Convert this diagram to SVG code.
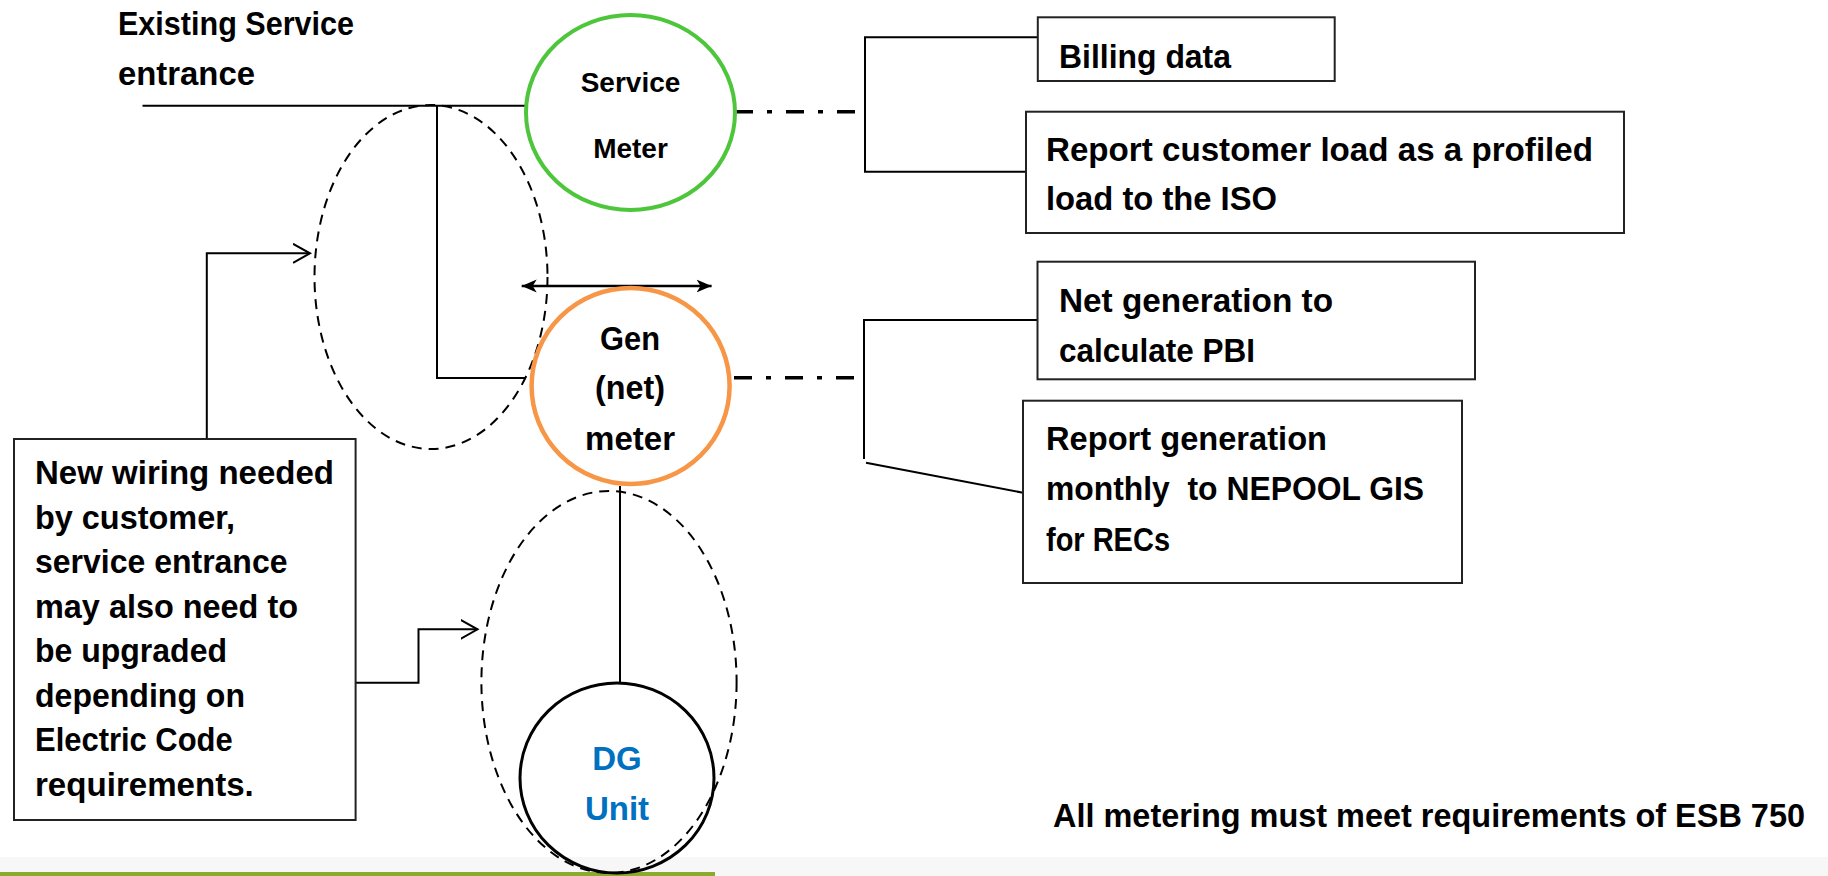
<svg xmlns="http://www.w3.org/2000/svg" width="1828" height="876" viewBox="0 0 1828 876">
<style>
.t{font-family:"Liberation Sans",Arial,sans-serif;font-weight:bold;font-size:33px;fill:#000}
.m{font-family:"Liberation Sans",Arial,sans-serif;font-weight:bold;font-size:28px;fill:#000}
.dg{fill:#0070C0}
.w{fill:none;stroke:#000;stroke-width:2}
.box{fill:#fff;stroke:#222;stroke-width:2}
.dash{fill:none;stroke:#000;stroke-width:2;stroke-dasharray:10 7}
.dd{fill:none;stroke:#000;stroke-width:3.5;stroke-dasharray:18 14 5 14}
</style>
<defs>
<marker id="open" markerWidth="20" markerHeight="24" refX="17" refY="10" orient="auto" markerUnits="userSpaceOnUse">
<path d="M0,0.5 L17,10 L0,19.5" fill="none" stroke="#000" stroke-width="2"/>
</marker>
<marker id="stealth" markerWidth="18" markerHeight="16" refX="15" refY="7" orient="auto-start-reverse" markerUnits="userSpaceOnUse">
<path d="M0,0.5 L15,7 L0,13.5 L4,7 Z" fill="#000"/>
</marker>
</defs>
<rect x="0" y="0" width="1828" height="876" fill="#fff"/>
<rect x="0" y="857" width="1828" height="19" fill="#f7f7f7"/>
<rect x="0" y="872" width="715" height="4" fill="#8CAB2C"/>

<g id="connectors">
<polyline class="w" points="142.5,105.7 526,105.7"/>
<polyline class="w" points="437,105.7 437,378 526,378"/>
<line x1="521.7" y1="286" x2="711.6" y2="286" stroke="#000" stroke-width="2.5" marker-start="url(#stealth)" marker-end="url(#stealth)"/>
<line class="dd" x1="735" y1="111.7" x2="855" y2="111.7"/>
<line class="dd" x1="734" y1="377.7" x2="855" y2="377.7"/>
<polyline class="w" points="1037.8,37.3 865,37.3 865,171.7 1026,171.7"/>
<polyline class="w" points="1037.5,320 864,320 864,459"/>
<line class="w" x1="866" y1="462.7" x2="1023" y2="492.7"/>
<polyline class="w" points="206.8,439 206.8,253.3 310,253.3" marker-end="url(#open)"/>
<polyline class="w" points="355.6,682.7 418.5,682.7 418.5,629.3 477.5,629.3" marker-end="url(#open)"/>
<line class="w" x1="620" y1="486" x2="620" y2="682.7"/>
</g>

<g id="existing-service">
<text class="t" x="118" y="35" textLength="236" lengthAdjust="spacingAndGlyphs">Existing Service</text>
<text class="t" x="118" y="85" textLength="137" lengthAdjust="spacingAndGlyphs">entrance</text>
</g>

<g id="group-dashed-1">
<ellipse class="dash" cx="431" cy="277" rx="116.5" ry="172"/>
</g>
<g id="group-dashed-2">
<ellipse class="dash" cx="609" cy="682" rx="127.6" ry="191"/>
</g>

<g id="service-meter">
<ellipse cx="630.5" cy="112.5" rx="104.5" ry="97.5" fill="none" stroke="#4DC63B" stroke-width="4"/>
<text class="m" x="630.5" y="91.7" text-anchor="middle">Service</text>
<text class="m" x="630.5" y="158" text-anchor="middle">Meter</text>
</g>

<g id="gen-meter">
<ellipse cx="630.6" cy="386" rx="99" ry="98" fill="none" stroke="#F79646" stroke-width="4.5"/>
<text class="t" x="630" y="350" text-anchor="middle" textLength="60" lengthAdjust="spacingAndGlyphs">Gen</text>
<text class="t" x="630" y="399" text-anchor="middle" textLength="70" lengthAdjust="spacingAndGlyphs">(net)</text>
<text class="t" x="630" y="450" text-anchor="middle" textLength="90" lengthAdjust="spacingAndGlyphs">meter</text>
</g>

<g id="dg-unit">
<ellipse cx="617" cy="778" rx="97" ry="95" fill="none" stroke="#000" stroke-width="3"/>
<text class="t dg" x="617" y="770" text-anchor="middle">DG</text>
<text class="t dg" x="617" y="820" text-anchor="middle">Unit</text>
</g>

<g id="billing-data">
<rect class="box" x="1037.8" y="17.3" width="296.9" height="63.7"/>
<text class="t" x="1059" y="68.3" textLength="172" lengthAdjust="spacingAndGlyphs">Billing data</text>
</g>

<g id="report-customer">
<rect class="box" x="1026" y="111.7" width="598" height="121.3"/>
<text class="t" x="1046" y="161" textLength="547" lengthAdjust="spacingAndGlyphs">Report customer load as a profiled</text>
<text class="t" x="1046" y="210" textLength="231" lengthAdjust="spacingAndGlyphs">load to the ISO</text>
</g>

<g id="net-generation">
<rect class="box" x="1037.5" y="261.7" width="437.5" height="117.6"/>
<text class="t" x="1059" y="311.7" textLength="274" lengthAdjust="spacingAndGlyphs">Net generation to</text>
<text class="t" x="1059" y="361.7" textLength="196" lengthAdjust="spacingAndGlyphs">calculate PBI</text>
</g>

<g id="report-generation">
<rect class="box" x="1023" y="400.7" width="439" height="182.3"/>
<text class="t" x="1046" y="450" textLength="281" lengthAdjust="spacingAndGlyphs">Report generation</text>
<text class="t" x="1046" y="500" textLength="378" lengthAdjust="spacingAndGlyphs" xml:space="preserve">monthly  to NEPOOL GIS</text>
<text class="t" x="1046" y="551" textLength="124" lengthAdjust="spacingAndGlyphs">for RECs</text>
</g>

<g id="new-wiring">
<rect class="box" x="14" y="439" width="341.6" height="381"/>
<text class="t" x="35" y="484" textLength="299" lengthAdjust="spacingAndGlyphs">New wiring needed</text>
<text class="t" x="35" y="528.6" textLength="200" lengthAdjust="spacingAndGlyphs">by customer,</text>
<text class="t" x="35" y="573.1" textLength="252.5" lengthAdjust="spacingAndGlyphs">service entrance</text>
<text class="t" x="35" y="617.7" textLength="263" lengthAdjust="spacingAndGlyphs">may also need to</text>
<text class="t" x="35" y="662.3" textLength="192" lengthAdjust="spacingAndGlyphs">be upgraded</text>
<text class="t" x="35" y="706.9" textLength="210" lengthAdjust="spacingAndGlyphs">depending on</text>
<text class="t" x="35" y="751.4" textLength="197.7" lengthAdjust="spacingAndGlyphs">Electric Code</text>
<text class="t" x="35" y="796" textLength="218.8" lengthAdjust="spacingAndGlyphs">requirements.</text>
</g>

<g id="note">
<text class="t" x="1053" y="827" textLength="752" lengthAdjust="spacingAndGlyphs">All metering must meet requirements of ESB 750</text>
</g>
</svg>
